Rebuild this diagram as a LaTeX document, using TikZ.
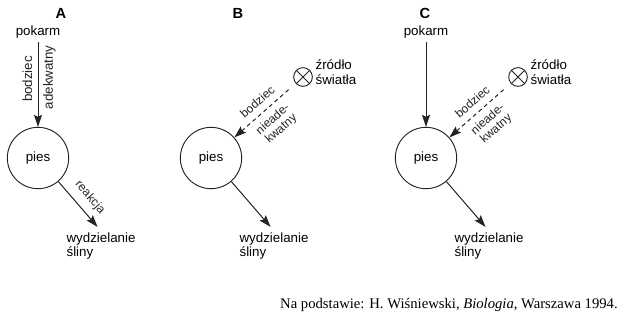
\documentclass[tikz,border=0pt]{standalone}
\usepackage{fontspec}
\setmainfont{Liberation Sans}
\newfontfamily\sourcefont{Liberation Serif}
\usetikzlibrary{arrows.meta}
\definecolor{inkgray}{RGB}{35,35,35}

\begin{document}
\begin{tikzpicture}[x=0.75pt, y=-0.75pt,
  organism/.style={circle, draw=inkgray, line width=0.7pt, minimum size=46pt, inner sep=0pt, font=\fontsize{10}{11}\selectfont},
  lamp/.style={circle, draw=inkgray, line width=0.7pt, minimum size=14pt, inner sep=0pt},
  txt/.style={font=\fontsize{10}{11}\selectfont, inner sep=1pt},
  small/.style={font=\fontsize{9}{9.5}\selectfont, inner sep=1.5pt},
  panel/.style={font=\bfseries\fontsize{11}{13}\selectfont},
  arrow/.style={-{Stealth[length=9pt,width=6pt,inset=1.5pt]}, line width=0.75pt, inkgray},
  weak/.style={arrow, dash pattern=on 3pt off 2.5pt}
]
  \useasboundingbox (0,0) rectangle (620,317);

  % dog and saliva, one per panel
  \foreach \p/\x/\lx in {A/38/61, B/211/238, C/426/425} {
    \node[panel] (title\p) at (\lx, 13) {\p};
    \node[organism] (pies\p) at (\x, 158) {pies};
    \node[txt, align=left, anchor=north west] (slina\p) at (\x+27, 231) {wydzielanie\\śliny};
  }
  \draw[arrow, shorten >=4pt] (piesA) -- node[small, sloped, above=4pt] {reakcja} (slinaA.north);
  \draw[arrow, shorten >=4pt] (piesB) -- (slinaB.north);
  \draw[arrow, shorten >=4pt] (piesC) -- (slinaC.north);

  % food
  \node[txt] (pokarmA) at (38, 32) {pokarm};
  \node[txt] (pokarmC) at (426, 32) {pokarm};
  \draw[arrow, shorten <=2pt] (pokarmA) --
    node[txt, pos=0.45, rotate=90, anchor=south, inner sep=4pt] {bodziec}
    node[txt, pos=0.43, rotate=90, anchor=north, inner sep=3.5pt] {adekwatny} (piesA);
  \draw[arrow, shorten <=2pt] (pokarmC) -- (piesC);

  % light source
  \foreach \p/\x in {B/211, C/426} {
    \node[lamp] (lamp\p) at (\x+92, 77) {};
    \draw[inkgray, line width=0.7pt] (lamp\p.north east) -- (lamp\p.south west)
      (lamp\p.north west) -- (lamp\p.south east);
    \node[txt, align=left, anchor=west] (zrodlo\p) at (\x+103, 72) {źródło\\światła};
    \draw[weak, shorten <=7pt] (lamp\p) --
      node[small, sloped, above=3.5pt] {bodziec}
      node[small, sloped, below=3pt, align=center] {nieade-\\kwatny} (pies\p);
  }

  \node[anchor=east, inner sep=0pt, font=\sourcefont\fontsize{11}{13}\selectfont] (source) at (618, 305)
    {Na podstawie: H. Wiśniewski, \textit{Biologia}, Warszawa 1994.};
\end{tikzpicture}
\end{document}
